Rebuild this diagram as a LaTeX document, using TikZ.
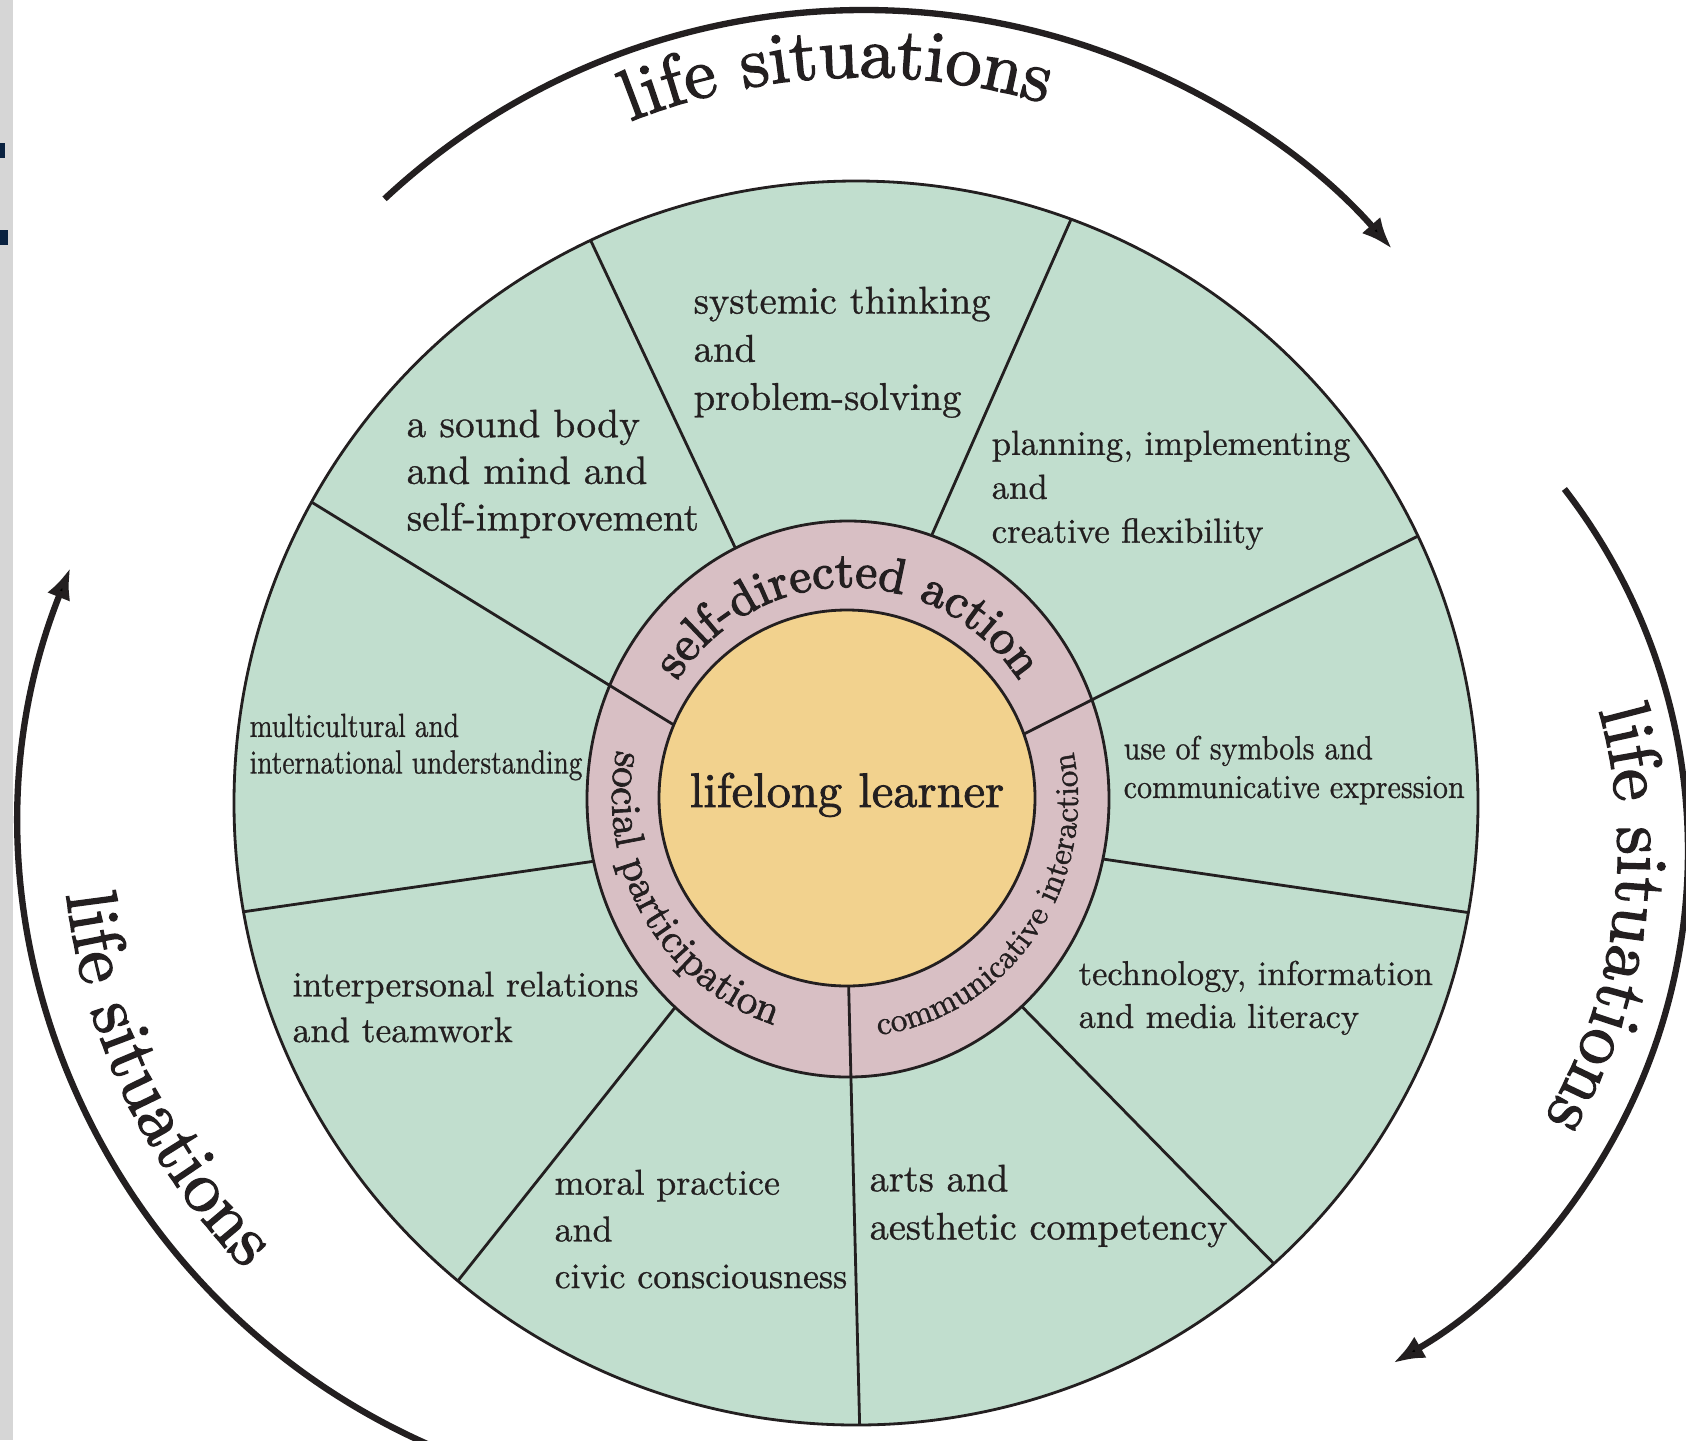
\documentclass[tikz,border=0pt]{standalone}
\usepackage{fontspec}
\setmainfont{lmroman10-regular.otf}[FakeBold=0.8]
\usepackage{tikz}
\usetikzlibrary{arrows.meta, decorations.text}

\definecolor{mint}{RGB}{193,222,206}
\definecolor{rose}{RGB}{216,191,196}
\definecolor{gold}{RGB}{242,210,142}
\definecolor{ink}{RGB}{35,31,32}
\definecolor{slide}{RGB}{214,214,214}
\definecolor{navy}{RGB}{10,34,64}

\newcommand{\narrowtext}[2]{\scalebox{#1}[1]{#2}}
\newcommand{\heavy}[1]{\addfontfeatures{FakeBold=#1}}
\newcommand{\lifefont}{\fontsize{20.5}{24}\selectfont\heavy{2}}

\tikzset{
  sector/.style={anchor=north west, align=left, inner sep=0pt, text=ink,
    font=\fontsize{10.8}{13.4}\selectfont},
  divider/.style={line width=0.8pt, draw=ink},
  lifearrow/.style={line width=1.8pt, draw=ink, -{Latex[length=9pt,width=7pt]}},
  curved/.style={decorate, decoration={text along path, text align=center,
    text color=ink, text={#1}}},
}

\begin{document}
\begin{tikzpicture}
        % Page
        \useasboundingbox (0,0) rectangle (16.86,-14.40);
        \clip (0,0) rectangle (16.86,-14.40);
        \fill[white] (0,0) rectangle (16.86,-14.40);
        \fill[slide] (0,0) rectangle (0.13,-14.40);
        \fill[navy] (0,-1.43) rectangle (0.05,-1.58);
        \fill[navy] (0,-2.30) rectangle (0.08,-2.45);
        % Centres
        \coordinate (wheel) at (8.56,-8.03);
        \coordinate (ring) at (8.48,-7.99);
        \coordinate (core) at (8.47,-7.98);
        \coordinate (topc) at (8.64,-7.13);
        \coordinate (rightc) at (10.96,-8.51);
        \coordinate (leftc) at (7.05,-8.20);
        % Outer wheel and its spokes
        \filldraw[fill=mint, divider] (wheel) circle[radius=6.22];
        \begin{scope}
            \clip (wheel) circle[radius=6.22];
            \draw[divider] (7.56,-5.92) -- (5.82,-2.22);
            \draw[divider] (9.12,-5.80) -- (10.80,-1.99);
            \draw[divider] (10.55,-8.52) -- (14.85,-9.15);
            \draw[divider] (9.90,-9.74) -- (12.84,-12.74);
            \draw[divider] (7.04,-9.71) -- (4.49,-12.92);
            \draw[divider] (6.37,-8.55) -- (2.28,-9.14);
        \end{scope}
        % Middle ring
        \filldraw[fill=rose, divider] (ring) ellipse[x radius=2.61, y radius=2.78];
        \begin{scope}
            \clip (wheel) circle[radius=6.22];
            \draw[divider] (10.00,-7.46) -- (14.30,-5.30);
            \draw[divider] (8.48,-9.60) -- (8.60,-14.40);
            \draw[divider] (7.00,-7.41) -- (3.00,-4.95);
        \end{scope}
        % Core
        \filldraw[fill=gold, divider] (core) circle[radius=1.88];
        \node[anchor=base, text=ink, font=\fontsize{13.8}{16}\selectfont\heavy{1.6}] (learner) at (8.47,-8.07) {lifelong learner};
        % Ring labels
        \path[curved={|\fontsize{14}{16}\selectfont\heavy{2.6}|self-directed action}]
            (ring) ++(165:2.06 and 2.12) arc[start angle=165, end angle=15, x radius=2.06, y radius=2.12];
        \path[curved={|\fontsize{11.8}{14}\selectfont\heavy{1.6}|social participation}]
            (ring) ++(150:2.36 and 2.38) arc[start angle=150, end angle=270, x radius=2.36, y radius=2.38];
        \path[curved={|\fontsize{9.4}{11}\selectfont\heavy{1.4}|communicative interaction}]
            (ring) ++(266:2.30 and 2.38) arc[start angle=266, end angle=382.6, x radius=2.30, y radius=2.38];
        % Sector labels
        \node[sector, font=\fontsize{11}{13.7}\selectfont] (systemic) at (6.93,-2.86) {systemic thinking\\and\\problem-solving};
        \node[sector, font=\fontsize{9.9}{12.5}\selectfont] (planning) at (9.91,-4.30) {planning, implementing\\and\\creative flexibility};
        \node[sector, font=\fontsize{11.2}{13.3}\selectfont] (body) at (4.06,-4.09) {a sound body\\and mind and\\self-improvement};
        \node[sector, font=\fontsize{9.5}{10.4}\selectfont] (multicultural) at (2.49,-7.13) {\narrowtext{0.82}{multicultural and}\\\narrowtext{0.82}{international understanding}};
        \node[sector, font=\fontsize{9.5}{11}\selectfont] (symbols) at (11.23,-7.35) {\narrowtext{0.9}{use of symbols and}\\\narrowtext{0.9}{communicative expression}};
        \node[sector, font=\fontsize{10.1}{13}\selectfont] (interpersonal) at (2.92,-9.71) {interpersonal relations\\and teamwork};
        \node[sector, font=\fontsize{9.8}{12.2}\selectfont] (technology) at (10.78,-9.60) {technology, information\\and media literacy};
        \node[sector, font=\fontsize{10.2}{13.3}\selectfont] (moral) at (5.54,-11.69) {moral practice\\and\\civic consciousness};
        \node[sector, font=\fontsize{10.9}{13.7}\selectfont] (arts) at (8.69,-11.64) {arts and\\aesthetic competency};
        % Life situations arrows
        \draw[lifearrow] (topc) ++(133:7.03) arc[start angle=133, end angle=41.3, radius=7.03];
        \draw[lifearrow] (rightc) ++(37.7:5.92) arc[start angle=37.7, end angle=-59.9, radius=5.92];
        \draw[lifearrow] (leftc) ++(247:6.83) arc[start angle=247, end angle=158.3, radius=6.83];
        \path[curved={|\lifefont|life situations}]
            (topc) ++(130:6.36) arc[start angle=130, end angle=55, radius=6.36];
        \path[curved={|\lifefont|life situations}]
            (rightc) ++(30:5.22) arc[start angle=30, end angle=-45.2, radius=5.22];
        \path[curved={|\lifefont|life situations}]
            (leftc) ++(168:6.43) arc[start angle=168, end angle=243, radius=6.43];
\end{tikzpicture}
\end{document}
